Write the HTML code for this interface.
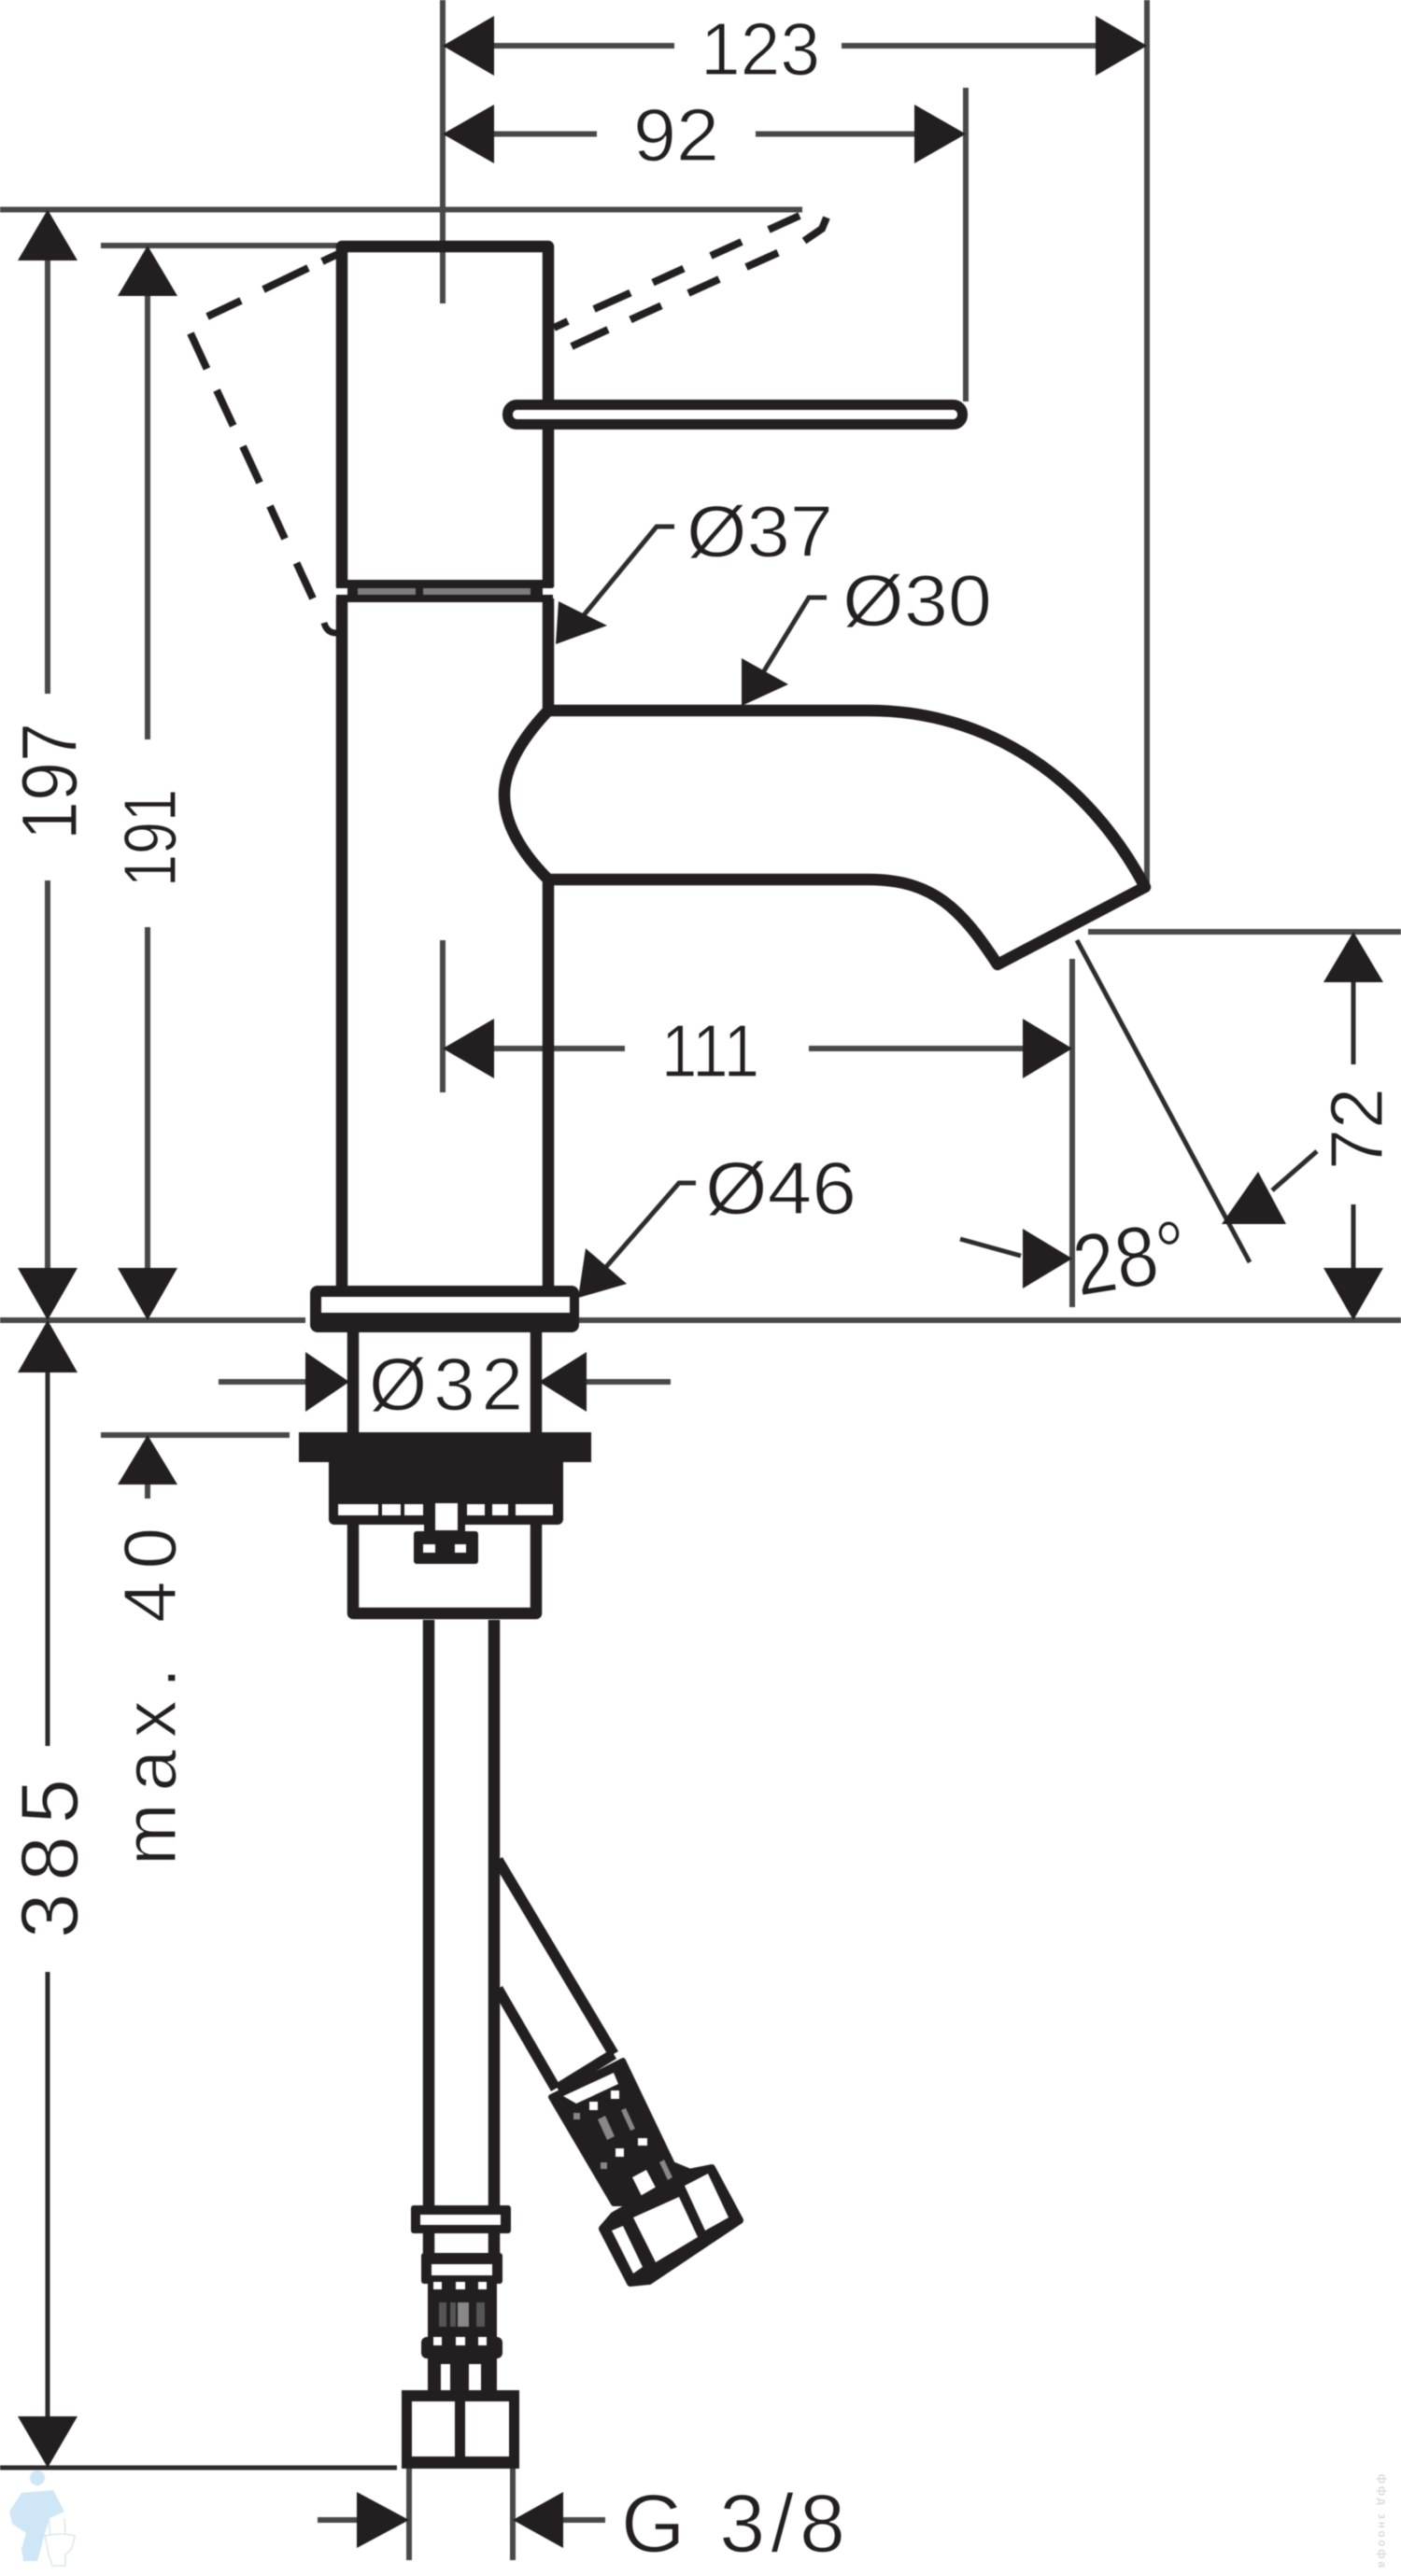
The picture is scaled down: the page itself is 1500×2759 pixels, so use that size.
<!DOCTYPE html>
<html><head><meta charset="utf-8"><style>
html,body{margin:0;padding:0;background:#fff}
svg{display:block;filter:blur(.6px)}
text{font-family:"Liberation Sans",sans-serif;fill:#231f20;stroke:#fff;stroke-width:1.2px}
.d{stroke:#2c2c2c;stroke-width:5;fill:none}
.g{stroke:#484848;stroke-width:6;fill:none}
.o{stroke:#231f20;stroke-width:12.5;fill:none;stroke-linejoin:round}
.b{fill:#231f20}
.w{fill:#fff}
.da{stroke:#231f20;stroke-width:8;fill:none}
</style></head><body>
<svg width="1500" height="2759" viewBox="0 0 1500 2759" xmlns="http://www.w3.org/2000/svg">
<!-- dimension lines -->
<path class="g" d="M474,0V325M1228,0V950M1034,94V430M0,224.5H859M108,263H366M158,317V792M158,993V1358M51,279V743M51,943V1358"/>
<path class="g" d="M529,49H722M901,49H1173M529,143.5H639M809,143.5H979"/>
<path class="g" d="M474,1007V1170M529,1123H669M866,1123H1095M1148,1027V1400"/>
<path class="g" d="M0,1414H327M620,1414H1500M1165,998H1500"/>
<path class="d" d="M1449,1052V1140M1449,1290V1358M1028,1327L1093,1345M1153,1007L1338,1352M1362,1275L1410,1233"/>
<path class="g" d="M234,1480H327M628,1480H718M108,1537H310M158,1590V1605"/>
<path class="d" d="M51,1470V1870M51,2112V2590M0,2643H425"/>
<path class="g" d="M438,2644V2742M549,2644V2742M340,2699H382M603,2699H648"/>
<!-- leaders -->
<path class="d" d="M722,564H703L620,665M885,640H866L816,722M745,1267H727L648,1358"/>
<!-- arrowheads -->
<g class="b">
<polygon points="474,49 529,17 529,81"/>
<polygon points="1228,49 1173,17 1173,81"/>
<polygon points="474,143.5 529,112 529,175"/>
<polygon points="1034,143.5 979,112 979,175"/>
<polygon points="51,224.5 19,279 83,279"/>
<polygon points="158,263 126,317 190,317"/>
<polygon points="51,1414 19,1358 83,1358"/>
<polygon points="158,1414 126,1358 190,1358"/>
<polygon points="51,1414 19,1470 83,1470"/>
<polygon points="51,2643 19,2588 83,2588"/>
<polygon points="158,1537 126,1590 190,1590"/>
<polygon points="474,1123 529,1091 529,1155"/>
<polygon points="1148,1123 1095,1091 1095,1155"/>
<polygon points="1148,1348 1095,1316 1095,1380"/>
<polygon points="1449,998 1417,1052 1481,1052"/>
<polygon points="1449,1414 1417,1358 1481,1358"/>
<polygon points="1347,1255 1308,1311 1377,1311"/>
<polygon points="595,690 598,644 650,670"/>
<polygon points="794,756 794,705 844,733"/>
<polygon points="619,1390 627,1337 671,1375"/>
<polygon points="374,1480 327,1448 327,1512"/>
<polygon points="577,1480 628,1448 628,1512"/>
<polygon points="438,2699 382,2669 382,2729"/>
<polygon points="549,2699 603,2669 603,2729"/>
</g>
<!-- dashed -->
<path class="da" d="M362,272L345,280M330,287L282,310M258,322L222,339M204,357L221.5,395M232,418L249.7,456M260,478L278,517M289,542L305,577M317.5,603L335,641"/>
<path class="da" style="stroke-width:7" d="M347,667Q350,678 360,678"/>
<path class="da" d="M593,351L608,344M636,331L675,313.6M699,302.6L732,287.6M761,274L794,259M823,246L856,231"/>
<path class="da" d="M612,371L651,353M675,342.4L708,327.4M737,314L770,299M799,286L833,270.7M861,258L880,245L885,233"/>
<!-- body -->
<path class="o" d="M366,629V264H587V629"/>
<path class="o" d="M366,641V1380M587,641V761M587,942V1380"/>
<rect class="b" x="360" y="621" width="232" height="24"/>
<rect x="383" y="630" width="62" height="7" fill="#7d7d7d"/>
<rect x="453" y="630" width="115" height="7" fill="#7d7d7d"/>
<rect class="w" x="360" y="630" width="12" height="7"/>
<rect class="w" x="581" y="630" width="11" height="7"/>
<rect x="543.5" y="433.5" width="487" height="21" rx="10" fill="#fff" stroke="#231f20" stroke-width="11"/>
<path d="M587,761C555,795 540,825 540,851C540,880 555,910 587,942" class="o" fill="#fff"/>
<path class="o" d="M587,761H930C1060,761 1165,835 1226,950L1068,1033C1030,975 1000,942 930,942H587"/>
<!-- flange -->
<rect class="b" x="332" y="1377" width="288" height="50" rx="8"/>
<rect class="w" x="344" y="1389" width="266" height="17"/>
<path class="o" d="M378,1427V1537M574,1427V1537M378,1620V1728H574V1620"/>
<rect class="b" x="320" y="1534" width="313" height="32"/>
<rect class="b" x="352" y="1560" width="251" height="73" rx="6"/>
<g class="w">
<rect x="362" y="1611" width="43" height="12"/><rect x="409" y="1611" width="20" height="12"/><rect x="433" y="1611" width="20" height="12"/>
<rect x="500" y="1611" width="19" height="12"/><rect x="527" y="1611" width="17" height="12"/><rect x="552" y="1611" width="40" height="12"/>
</g>
<rect class="b" x="454" y="1605" width="44" height="38"/>
<rect class="w" x="466" y="1610" width="24" height="29"/>
<rect class="b" x="443" y="1640" width="69" height="35" rx="3"/>
<rect class="w" x="453" y="1654" width="13" height="9"/><rect class="w" x="487" y="1654" width="12" height="9"/>
<!-- pipe -->
<path class="o" d="M459,1735V2365M529,1735V2365"/>
<path class="o" style="stroke-width:11.5" d="M533,1992L657,2200M533,2130L595,2237M597,2237L657,2200"/>
<!-- straight fittings -->
<rect class="b" x="440" y="2362" width="107" height="30" rx="3"/>
<rect class="w" x="450" y="2372" width="86" height="11"/>
<path class="o" d="M459,2392V2414M529,2392V2414"/>
<rect class="b" x="451" y="2413" width="87" height="33" rx="3"/>
<rect class="w" x="462" y="2425" width="65" height="12"/>
<rect class="b" x="458" y="2437" width="74" height="91"/>
<rect class="b" x="451" y="2503" width="87" height="23" rx="6"/>
<g class="w">
<rect x="464" y="2444" width="9" height="8"/><rect x="488" y="2444" width="10" height="8"/><rect x="512" y="2444" width="9" height="8"/>
<rect x="464" y="2503" width="9" height="9"/><rect x="488" y="2503" width="10" height="9"/><rect x="512" y="2503" width="9" height="9"/>
</g>
<rect x="470" y="2466" width="8" height="26" fill="#555"/><rect x="482" y="2466" width="6" height="26" fill="#555"/><rect x="490" y="2466" width="12" height="26" fill="#888"/><rect x="510" y="2466" width="9" height="26" fill="#555"/>
<rect class="b" x="458" y="2526" width="74" height="36"/>
<rect class="w" x="472" y="2532" width="10" height="28"/><rect class="w" x="502" y="2532" width="13" height="28"/>
<rect class="b" x="430" y="2560" width="126" height="84"/>
<rect class="w" x="441" y="2572" width="46" height="59"/><rect class="w" x="498" y="2572" width="47" height="59"/>
<!-- angled fittings -->
<polygon class="b" stroke="#231f20" stroke-width="6" stroke-linejoin="round" points="590,2246 667,2207 720,2318 737,2325 667,2360 657,2360"/>
<polygon class="w" points="603,2245 657,2220 662,2232 617,2253"/>
<g class="w">
<rect x="654" y="2239" width="9" height="9"/><rect x="631" y="2251" width="9" height="9"/>
<rect x="683" y="2290" width="10" height="8"/><rect x="659" y="2301" width="9" height="9"/>
<polygon points="677,2332 692,2324 702,2343 687,2352"/>
</g>
<g fill="#888">
<rect x="614" y="2263" width="7" height="7"/><rect x="643" y="2316" width="7" height="7"/>
<polygon points="640,2270 648,2266 658,2288 650,2292"/><polygon points="665,2260 670,2258 680,2280 675,2282"/><polygon points="706,2316 711,2313 720,2332 715,2335"/>
</g>
<polygon class="b" stroke="#231f20" stroke-width="8" stroke-linejoin="round" points="645,2387 657,2373 737,2327 762,2322 792,2378 695,2443 675,2445"/>
<g class="w">
<polygon points="655,2389 667,2384 688,2428 678,2435"/>
<polygon points="678,2375 727,2353 747,2396 702,2423"/>
<polygon points="733,2341 758,2328 780,2375 755,2389"/>
</g>
<!-- labels -->
<text x="750" y="80" font-size="80" textLength="128" lengthAdjust="spacingAndGlyphs">123</text>
<text x="678" y="172" font-size="80" textLength="92" lengthAdjust="spacingAndGlyphs">92</text>
<text x="735" y="596" font-size="78" textLength="157" lengthAdjust="spacingAndGlyphs">Ø37</text>
<text x="902" y="670" font-size="78" textLength="160" lengthAdjust="spacingAndGlyphs">Ø30</text>
<text x="708" y="1153" font-size="80" textLength="105" lengthAdjust="spacingAndGlyphs">111</text>
<text x="755" y="1300" font-size="80" textLength="162" lengthAdjust="spacingAndGlyphs">Ø46</text>
<text x="395" y="1510" font-size="80" textLength="165" lengthAdjust="spacing">Ø32</text>
<text x="665" y="2733" font-size="88" textLength="240" lengthAdjust="spacing">G 3/8</text>
<text transform="translate(1155,1388) rotate(-9)" font-size="92" textLength="122" lengthAdjust="spacingAndGlyphs">28°</text>
<text transform="translate(1480,1253) rotate(-90)" font-size="80" textLength="88" lengthAdjust="spacingAndGlyphs">72</text>
<text transform="translate(82,900) rotate(-90)" font-size="84" textLength="126" lengthAdjust="spacingAndGlyphs">197</text>
<text transform="translate(188,950) rotate(-90)" font-size="80" textLength="105" lengthAdjust="spacingAndGlyphs">191</text>
<text transform="translate(83,2076) rotate(-90)" font-size="87" textLength="171" lengthAdjust="spacing">385</text>
<text transform="translate(188,1998) rotate(-90)" font-size="80" textLength="362" lengthAdjust="spacing">max. 40</text>
<!-- watermark -->
<g fill="#cfe6f6">
<circle cx="40" cy="2654" r="8"/>
<polygon points="10,2690 23,2670 57,2667 69,2690 53,2697 47,2717 43,2733 40,2743 25,2743 23,2730 28,2713 13,2703"/>
</g>
<path d="M52,2697L54,2716M69,2697L70,2714M48,2716Q64,2712 80,2716Q78,2732 70,2736L70,2748H56L52,2736Q50,2724 48,2716Z" fill="none" stroke="#dbe6ee" stroke-width="1.5"/>
<text transform="translate(1476,2650) rotate(90)" font-size="12" textLength="100" lengthAdjust="spacing" style="fill:#ccc;stroke:none">ффд зноофа</text>
</svg>
</body></html>
